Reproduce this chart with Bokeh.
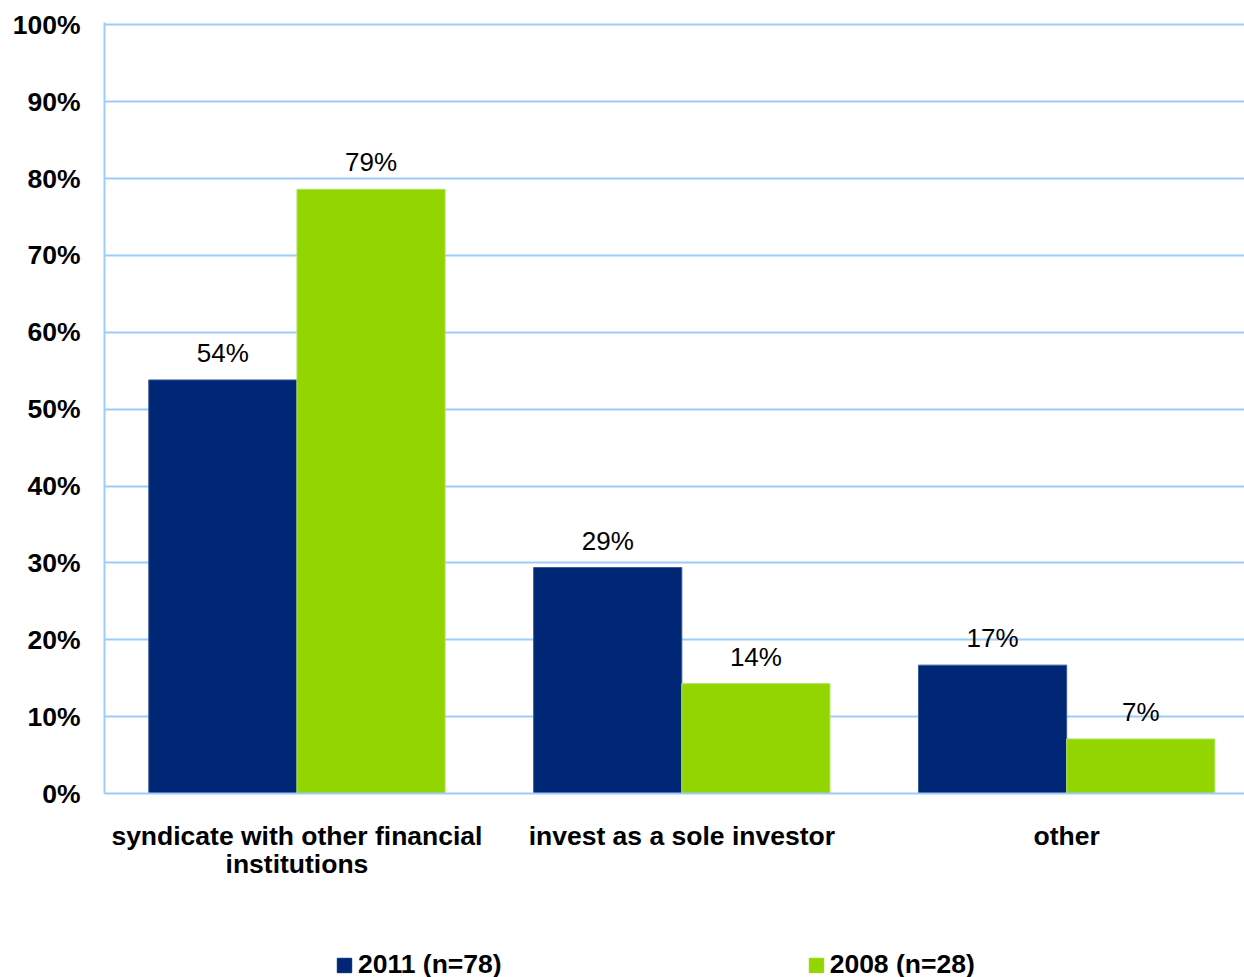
from bokeh.plotting import figure
from bokeh.layouts import column
from bokeh.models import ColumnDataSource, FixedTicker, PrintfTickFormatter, Range1d, Legend, LegendItem
from bokeh.transform import dodge
from bokeh.core.properties import value
from bokeh.embed import file_html
from bokeh.resources import INLINE

categories = ["syndicate with other financial\ninstitutions", "invest as a sole investor", "other"]
series_names = ["2011 (n=78)", "2008 (n=28)"]
values_2011 = [53.8, 29.4, 16.7]
values_2008 = [78.6, 14.3, 7.1]
y_ticks = [0, 10, 20, 30, 40, 50, 60, 70, 80, 90, 100]

NAVY = "#002776"
GREEN = "#93D500"
GRID = "#9DCCFA"
FONT = "Liberation Sans"

xpos = [i + 0.5 for i in range(len(categories))]
src = ColumnDataSource(dict(
    x=xpos,
    v2011=values_2011,
    v2008=values_2008,
    l2011=[f"{round(v)}%" for v in values_2011],
    l2008=[f"{round(v)}%" for v in values_2008],
))

p = figure(width=1244, height=930, output_backend="svg", toolbar_location=None,
           x_range=Range1d(0, 2.962), y_range=Range1d(0, 100.3))
p.min_border_left = 104
p.min_border_right = 0
p.min_border_top = 22
p.min_border_bottom = 137
p.outline_line_color = None
p.background_fill_color = "white"
p.border_fill_color = "white"

bw = 0.385
r1 = p.vbar(x=dodge("x", -bw / 2, range=p.x_range), top="v2011", width=bw, bottom=0,
            source=src, fill_color=NAVY, line_color="#3a5a9a", line_width=1)
r2 = p.vbar(x=dodge("x", bw / 2, range=p.x_range), top="v2008", width=bw, bottom=0,
            source=src, fill_color=GREEN, line_color="#b5e36a", line_width=1)

for col, lab, off in (("v2011", "l2011", -bw / 2), ("v2008", "l2008", bw / 2)):
    p.text(x=dodge("x", off, range=p.x_range), y=col, text=lab, source=src,
           text_align="center", text_baseline="bottom", y_offset=-12,
           text_font=value(FONT), text_font_size="26px", text_color="black")

# axes
p.yaxis.ticker = FixedTicker(ticks=y_ticks)
p.yaxis.formatter = PrintfTickFormatter(format="%d%%")
p.yaxis.major_label_text_font = FONT
p.yaxis.major_label_text_font_size = "26.5px"
p.yaxis.major_label_text_font_style = "bold"
p.yaxis.major_label_text_color = "black"
p.yaxis.axis_line_color = GRID
p.yaxis.axis_line_width = 2
p.yaxis.major_tick_line_color = None
p.yaxis.minor_tick_line_color = None
p.yaxis.major_label_standoff = 18

p.xaxis.ticker = FixedTicker(ticks=xpos)
p.xaxis.major_label_overrides = {x: c for x, c in zip(xpos, categories)}
p.xaxis.major_label_text_font = FONT
p.xaxis.major_label_text_font_size = "26.5px"
p.xaxis.major_label_text_font_style = "bold"
p.xaxis.major_label_text_color = "black"
p.xaxis.major_label_text_line_height = 0.95
p.xaxis.axis_line_color = GRID
p.xaxis.axis_line_width = 2
p.xaxis.major_tick_line_color = None
p.xaxis.minor_tick_line_color = None
p.xaxis.major_label_standoff = 21

p.xgrid.grid_line_color = None
p.ygrid.ticker = FixedTicker(ticks=y_ticks)
p.ygrid.grid_line_color = GRID
p.ygrid.grid_line_width = 2

# legend strip
pl = figure(width=1244, height=47, output_backend="svg", toolbar_location=None,
            x_range=Range1d(0, 1244), y_range=Range1d(0, 47))
pl.min_border_left = 0
pl.min_border_right = 0
pl.min_border_top = 0
pl.min_border_bottom = 0
pl.outline_line_color = None
pl.grid.visible = False
pl.xaxis.visible = False
pl.yaxis.visible = False
# zero-size proxy glyphs that only carry the legend swatch styles
lr1 = pl.vbar(x=[0], top=[0], bottom=[0], width=0, fill_color=NAVY, line_color=NAVY)
lr2 = pl.vbar(x=[0], top=[0], bottom=[0], width=0, fill_color=GREEN, line_color=GREEN)

legend = Legend(items=[LegendItem(label=series_names[0], renderers=[lr1]),
                       LegendItem(label=series_names[1], renderers=[lr2])],
                location=(231, -3), orientation="horizontal", spacing=305,
                glyph_width=18, glyph_height=18, label_standoff=5,
                padding=0, margin=0, border_line_color=None, background_fill_alpha=0,
                label_text_font=FONT, label_text_font_size="26.5px", label_text_font_style="bold",
                label_text_color="black")
pl.add_layout(legend, "center")

open("out.html", "w").write(file_html(column(p, pl, spacing=0), INLINE))
